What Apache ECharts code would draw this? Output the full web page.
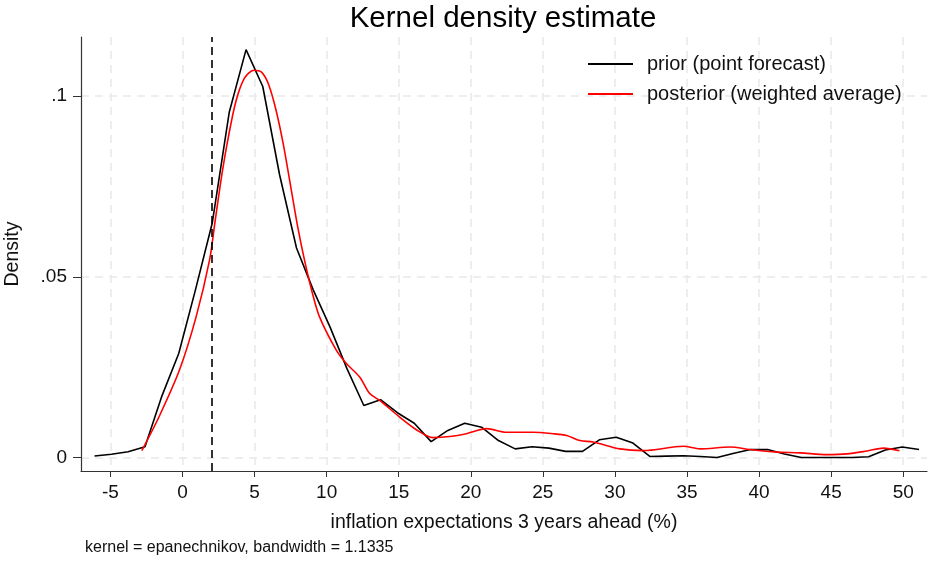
<!DOCTYPE html>
<html>
<head>
<meta charset="utf-8">
<script src="https://cdn.jsdelivr.net/npm/echarts@6/dist/echarts.min.js"></script>
<style>
  html, body { margin: 0; padding: 0; background: #fff; }
  #chart { width: 928px; height: 561px; }
</style>
</head>
<body>
<div id="chart"></div>
<script>
// prior (point forecast) - kde evaluation points
const priorX = [-6.10, -4.93, -3.77, -2.60, -1.43, -0.26, 0.90, 2.07, 3.24, 4.41,
  5.57, 6.74, 7.91, 9.07, 10.24, 11.41, 12.58, 13.74, 14.91, 16.08,
  17.25, 18.41, 19.58, 20.75, 21.92, 23.08, 24.25, 25.42, 26.58, 27.75,
  28.92, 30.09, 31.25, 32.42, 33.59, 34.76, 35.92, 37.09, 38.26, 39.42,
  40.59, 41.76, 42.93, 44.09, 45.26, 46.43, 47.60, 48.76, 49.93, 51.10]
const priorY = [0.0004, 0.0009, 0.0016, 0.0030, 0.0170, 0.0288, 0.0464, 0.0650, 0.0955, 0.1129,
  0.1027, 0.0782, 0.0580, 0.0464, 0.0361, 0.0246, 0.0144, 0.0160, 0.0124, 0.0095,
  0.0044, 0.0075, 0.0095, 0.0084, 0.0047, 0.0024, 0.0030, 0.0026, 0.0017, 0.0017,
  0.0049, 0.0056, 0.0040, 0.0003, 0.0004, 0.0005, 0.0003, 0.0000, 0.0012, 0.0022,
  0.0022, 0.0010, 0.0000, 0.0000, 0.0000, 0.0000, 0.0002, 0.0021, 0.0029, 0.0022]

// posterior (weighted average)
const postX = [-2.82, -1.6, -0.21, 0.95, 1.88, 2.25, 2.7, 3.15, 3.7, 4.3,
  4.95, 5.5, 6.0, 6.5, 7.0, 7.5, 8.0, 8.5, 9.0, 9.5,
  10.67, 11.37, 12.29, 12.99, 13.68, 15.07, 16.23, 17.38, 18.54, 19.7,
  21.09, 22.48, 24.33, 25.72, 26.65, 27.57, 28.49, 30.35, 31.97, 34.75,
  35.9, 37.99, 39.38, 41.23, 42.85, 44.7, 46.09, 47.48, 48.63, 49.74]
const postY = [0.0019, 0.0115, 0.0242, 0.0390, 0.0547, 0.0650, 0.0775, 0.0880, 0.0985, 0.1050,
  0.1072, 0.1066, 0.1030, 0.0960, 0.0866, 0.0752, 0.0637, 0.0540, 0.0457, 0.0390,
  0.0297, 0.0260, 0.0223, 0.0177, 0.0158, 0.0112, 0.0077, 0.0055, 0.0058, 0.0066,
  0.0080, 0.0070, 0.0070, 0.0066, 0.0061, 0.0047, 0.0043, 0.0024, 0.0019, 0.0031,
  0.0024, 0.0029, 0.0022, 0.0015, 0.0013, 0.0008, 0.0010, 0.0018, 0.0026, 0.0019]

const xTicks = [-5, 0, 5, 10, 15, 20, 25, 30, 35, 40, 45, 50]
const yTicks = [0, 0.05, 0.1]
const refLine = 2

const font = 'Liberation Sans, Arial, Helvetica, sans-serif'
const gridLine = { show: true, lineStyle: { color: '#e9e9e9', width: 1.5, type: [8, 6] } }

const chart = echarts.init(document.getElementById('chart'), null, { renderer: 'canvas' })

const option = {
  backgroundColor: '#fff',
  animation: false,
  title: {
    text: 'Kernel density estimate',
    left: 498,
    top: -1,
    textAlign: 'center',
    textStyle: { fontFamily: font, fontSize: 29.5, fontWeight: 'normal', color: '#000' }
  },
  legend: {
    orient: 'vertical',
    left: 588,
    top: 54,
    padding: 0,
    icon: 'rect',
    itemWidth: 45,
    itemHeight: 2,
    itemGap: 10,
    textStyle: { fontFamily: font, fontSize: 20, lineHeight: 20, color: '#111', padding: [0, 0, 0, 9] },
    data: ['prior (point forecast)', 'posterior (weighted average)']
  },
  grid: { left: 81, right: 1, top: 37, bottom: 90, outerBoundsMode: 'none' },
  xAxis: {
    type: 'value',
    min: -7.04,
    max: 51.65,
    name: 'inflation expectations 3 years ahead (%)',
    nameLocation: 'middle',
    nameGap: 42,
    nameTextStyle: { fontFamily: font, fontSize: 19.5, color: '#111' },
    axisLine: { onZero: false, lineStyle: { color: '#333', width: 1.2 } },
    axisTick: { length: 6, customValues: xTicks, lineStyle: { color: '#333' } },
    axisLabel: { customValues: xTicks, margin: 12, fontFamily: font, fontSize: 19, color: '#111' },
    splitLine: gridLine
  },
  yAxis: {
    type: 'value',
    min: -0.00373,
    max: 0.1164,
    name: 'Density',
    nameLocation: 'middle',
    nameGap: 58,
    nameTextStyle: { fontFamily: font, fontSize: 19.5, color: '#111' },
    axisLine: { show: true, onZero: false, lineStyle: { color: '#333', width: 1.2 } },
    axisTick: { show: true, length: 8, customValues: yTicks, lineStyle: { color: '#333' } },
    axisLabel: {
      customValues: yTicks,
      margin: 14,
      fontFamily: font,
      fontSize: 19,
      color: '#111',
      formatter: (v) => (v === 0 ? '0' : String(+v.toFixed(3)).replace('0.', '.'))
    },
    splitLine: gridLine
  },
  graphic: [
    {
      type: 'text',
      left: 85,
      top: 540,
      style: { text: 'kernel = epanechnikov, bandwidth = 1.1335', font: '16px ' + font, fill: '#111' }
    }
  ],
  series: [
    {
      name: 'prior (point forecast)',
      type: 'line',
      symbol: 'none',
      z: 3,
      lineStyle: { color: '#000', width: 1.6 },
      itemStyle: { color: '#000' },
      data: priorX.map((x, i) => [x, priorY[i]]),
      markLine: {
        silent: true,
        symbol: 'none',
        label: { show: false },
        lineStyle: { color: '#000', width: 1.6, type: [8, 5] },
        data: [{ xAxis: refLine }]
      }
    },
    {
      name: 'posterior (weighted average)',
      type: 'line',
      symbol: 'none',
      smooth: 0.3,
      z: 4,
      lineStyle: { color: '#ff0000', width: 1.6 },
      itemStyle: { color: '#ff0000' },
      data: postX.map((x, i) => [x, postY[i]])
    }
  ]
}

chart.setOption(option)
</script>
</body>
</html>
